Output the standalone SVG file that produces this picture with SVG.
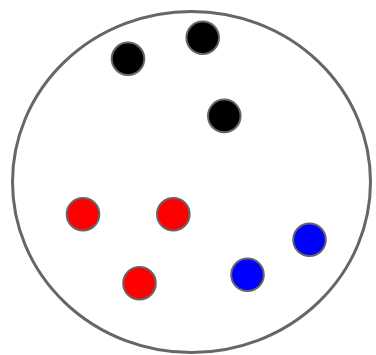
<svg xmlns="http://www.w3.org/2000/svg" width="376" height="355" viewBox="0 0 376 355">
<style>
.boundary{fill:#fff;stroke:#666;stroke-width:3}
.dot{stroke:#666;stroke-width:2}
.k{fill:#000}.r{fill:#f00}.b{fill:#00f}
</style>
<rect width="376" height="355" fill="#fff"/>
<g id="container"><ellipse class="boundary" cx="191.5" cy="182" rx="179" ry="170.5"/></g>
<g id="connectors"></g>
<g id="black1"><circle class="dot k" cx="128" cy="58.7" r="16.3"/></g>
<g id="black2"><circle class="dot k" cx="202.7" cy="37.8" r="16.3"/></g>
<g id="black3"><circle class="dot k" cx="224.3" cy="115.9" r="16.3"/></g>
<g id="red1"><circle class="dot r" cx="83" cy="214.3" r="16.3"/></g>
<g id="red2"><circle class="dot r" cx="173.3" cy="214.3" r="16.3"/></g>
<g id="red3"><circle class="dot r" cx="139.5" cy="283.2" r="16.3"/></g>
<g id="blue1"><circle class="dot b" cx="309.5" cy="239.8" r="16.3"/></g>
<g id="blue2"><circle class="dot b" cx="247.5" cy="274.8" r="16.3"/></g>
</svg>
